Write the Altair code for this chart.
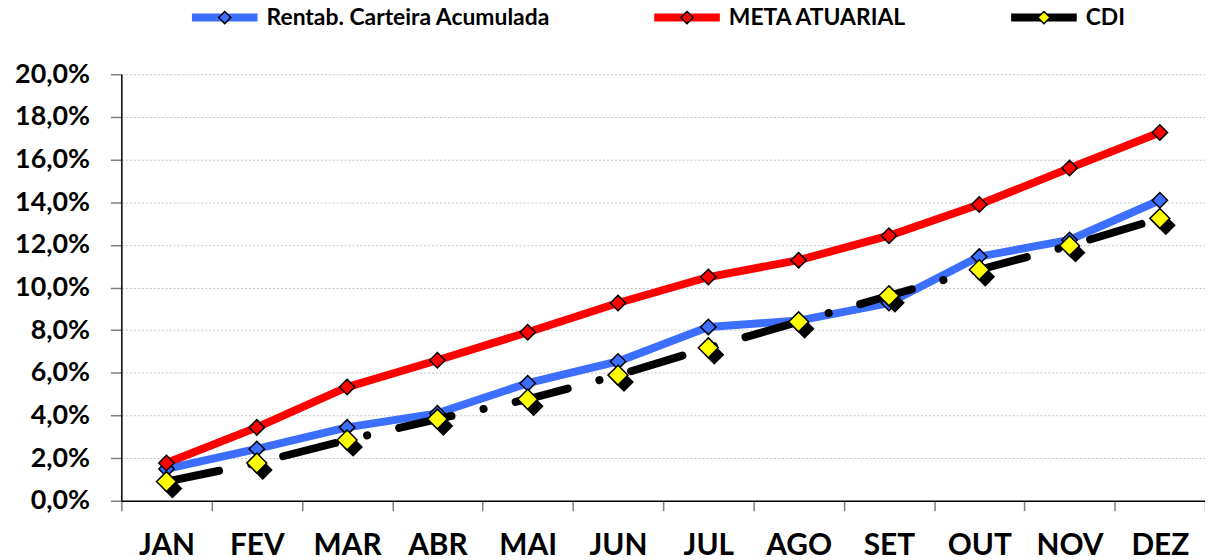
import altair as alt
import pandas as pd

months = ["JAN", "FEV", "MAR", "ABR", "MAI", "JUN", "JUL", "AGO", "SET", "OUT", "NOV", "DEZ"]
rentab = [1.49, 2.43, 3.44, 4.10, 5.51, 6.53, 8.15, 8.45, 9.27, 11.45, 12.23, 14.09]
meta = [1.77, 3.44, 5.33, 6.59, 7.90, 9.27, 10.49, 11.28, 12.43, 13.89, 15.60, 17.27]
cdi = [0.90, 1.77, 2.85, 3.83, 4.76, 5.89, 7.17, 8.39, 9.61, 10.83, 11.96, 13.24]
series = ["Rentab. Carteira Acumulada", "META ATUARIAL", "CDI"]
codes = ["s0", "s1", "s2"]
line_colors = ["#3C6EFF", "#FF0000", "#000000"]
marker_colors = ["#3C6EFF", "#FF0000", "#FFFF00"]
y_ticks = [0, 2, 4, 6, 8, 10, 12, 14, 16, 18, 20]

rows = []
for s, c, vals in zip(series, codes, [rentab, meta, cdi]):
    for i, (m, v) in enumerate(zip(months, vals)):
        rows.append(dict(mes=m, idx=i, serie=s, cod=c, valor=v))
df = pd.DataFrame(rows)

FONT = "Lato"

x_enc = alt.X(
    "mes:N", sort=months, title=None,
    scale=alt.Scale(type="band", domain=months, paddingInner=0, paddingOuter=0),
    axis=alt.Axis(labelAngle=0, labelFont=FONT, labelFontSize=30, labelFontWeight="bold",
                  labelColor="black", labelPadding=20, tickBand="extent", tickSize=10,
                  tickColor="#7f7f7f", tickWidth=1.5, domainColor="black", domainWidth=1.5,
                  grid=False),
)
y_enc = alt.Y(
    "valor:Q", title=None,
    scale=alt.Scale(domain=[0, 20], nice=False, zero=True),
    axis=alt.Axis(values=y_ticks,
                  labelExpr="replace(format(datum.value/100, '.1%'), '.', ',')",
                  labelFont=FONT, labelFontSize=27, labelFontWeight="bold", labelColor="black",
                  labelPadding=21, tickSize=11, tickColor="#7f7f7f", tickWidth=1.5,
                  domainColor="black", domainWidth=1.5, grid=True, gridColor="#c4c4c4",
                  gridDash=[2, 2], gridWidth=1),
)

leg_common = dict(orient="none", legendX=67, legendY=-75, direction="horizontal", title=None,
                  clipHeight=36, labelFont=FONT, labelFontSize=23, labelFontWeight="bold",
                  labelColor="black", labelOffset=5, labelLimit=500, columnPadding=100,
                  padding=0, symbolOpacity=1)

label_expr = "datum.value == 's0' ? '%s' : datum.value == 's1' ? '%s' : '%s'" % tuple(series)

line_legend = alt.Legend(symbolType="stroke", symbolSize=4356, symbolStrokeWidth=8, zindex=1,
                         **leg_common)
diamond_path = "M-1,0M1,0M-0.17,0L0,-0.17L0.17,0L0,0.17Z"
point_legend = alt.Legend(symbolType=diamond_path, symbolSize=5256, symbolStrokeWidth=1.5,
                          symbolStrokeColor="black", labelOpacity=0, labelExpr=label_expr,
                          zindex=2, **leg_common)

base = alt.Chart(df)

lines_a = base.transform_filter("datum.cod != 's2'").mark_line(
    strokeWidth=8, strokeCap="round", strokeJoin="round", opacity=1
).encode(
    x=x_enc, y=y_enc,
    stroke=alt.Stroke("serie:N", scale=alt.Scale(domain=series, range=line_colors),
                      legend=line_legend),
    order="idx:Q",
)

points_c = base.transform_filter("datum.cod != 's2'").mark_point(
    shape="diamond", filled=True, size=240, stroke="black", strokeWidth=1.5, opacity=1
).encode(
    x=x_enc, y=y_enc,
    fill=alt.Fill("cod:N", scale=alt.Scale(domain=codes, range=marker_colors),
                  legend=point_legend),
)

cdi_line = base.transform_filter("datum.cod == 's2'").mark_line(
    color="black", strokeWidth=8, strokeCap="round", strokeJoin="round",
    strokeDash=[54, 33, 0.1, 33], opacity=1
).encode(x=x_enc, y=y_enc, order="idx:Q")

cdi_shadow = base.transform_filter("datum.cod == 's2'").mark_point(
    shape="diamond", filled=True, size=400, color="black", xOffset=6, yOffset=7, opacity=1
).encode(x=x_enc, y=y_enc)

cdi_points = base.transform_filter("datum.cod == 's2'").mark_point(
    shape="diamond", filled=True, size=400, fill="#FFFF00", stroke="black",
    strokeWidth=1.5, opacity=1
).encode(x=x_enc, y=y_enc)

chart = alt.layer(lines_a, points_c, cdi_line, cdi_shadow, cdi_points).properties(
    width=1090, height=429,
    padding={"left": 114, "top": 65, "right": 0, "bottom": 60},
    autosize=alt.AutoSizeParams(type="none"),
    background="white",
).configure_view(stroke=None)

chart.save("out.html", embed_options={"renderer": "svg", "actions": False})
